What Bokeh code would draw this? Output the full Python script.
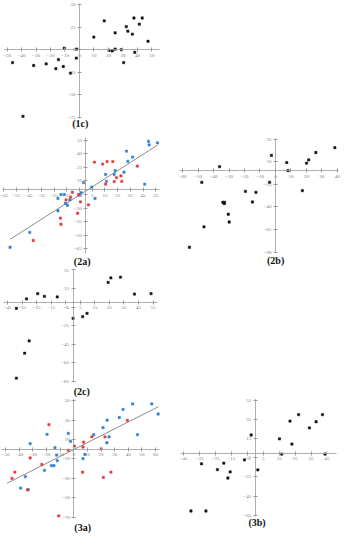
from bokeh.plotting import figure
from bokeh.models import LinearAxis, FixedTicker, Label, Range1d
from bokeh.layouts import column, row
from bokeh.embed import file_html
from bokeh.resources import INLINE

# ---------------- data ----------------
# panel 1c
c1_x = [-46.2, -39, -31.6, -23, -16.3, -14.5, -11.2, -10.5, -6.2, -2.2, -2, 9.9, 17.1, 20.4,
        22.6, 24.6, 24.6, 29, 30.5, 32.3, 33.4, 36.5, 37.6, 38.2, 41.3, 43.3, 47.3]
c1_y = [-14.3, -73.6, -17.5, -15.7, -21, -11, -18.6, 1.8, -26, -9.3, 0.7, 13.9, 31.8, -0.7,
        -1.4, 18.6, 0.7, 0, -14.3, 25.4, 20.4, 17.1, 35, -2.9, 28.2, 35, 9.3]
c1_xticks = [-50, -40, -30, -20, -10, 0, 10, 20, 30, 40, 50]
c1_yticks = [-75, -50, -25, 0, 25, 50]

# panel 2a
a2_blue_x = [49.3, 56.3, 49.8, 32, 36.8, 33, 15.5, 22.3, 23, 30, 16.2, 46.3, -1.8, 4.7, 7.2,
             -3.8, -5.3, -19.6, -17, -22, -16.1, -14.6, -12.6, -22, -44.2, -59.7]
a2_blue_y = [54, 52.3, 50, 43, 36.5, 31.8, 17.2, 17.2, 21.5, 19.7, 9.6, 6.4, 8.2, 3.2, -9.3,
             -2.9, -5.8, -5, -5, -9.3, -14.7, -16.9, -10.8, -23, -47, -63.5]
a2_red_x = [6.7, 13.2, 16.7, 21.2, 40.5, 27.6, 24.1, 28.3, 22.3, 15.5, -10.6, -5.6, -4.3, 2,
            -6.5, -15.6, -12, -20.1, -19.6, -41.4]
a2_red_y = [30.8, 28.7, 31.5, 31.5, 26.5, 15.7, 13.6, 9.6, 9.3, 6.4, -2.5, -5, -13.2, -16.5,
            -25.8, -11, -7.9, -31.2, -38, -56]
a2_trend = [0.9, -1.0]          # slope, intercept
a2_trend_x = [-59.7, 56.3]
a2_xticks = [-65, -55, -45, -35, -25, -15, -5, 5, 15, 25, 35, 45, 55]
a2_yticks = [-65, -50, -35, -20, -5, 10, 25, 40, 55]

# panel 2b
b2_x = [38.4, 26.1, 21.5, 20.1, 7.3, 8.1, -2.6, -36.1, -47.6, -3.8, 17.4, -19.4, -12.6, -34,
        -32.9, -33.1, -14.9, -30.5, -29.9, -46.2, -55.6]
b2_y = [25.5, 20.2, 12, 8.4, 9.1, 0.2, 17, 4.5, -12.7, -12.7, -22, -22.7, -23.75, -34.8,
        -34.8, -36.25, -34.5, -48, -56.6, -62, -84.5]
b2_xticks = [-60, -50, -40, -30, -20, -10, 0, 10, 20, 30, 40]
b2_yticks = [-90, -65, -40, -15, 10, 35]

# panel 2c
c2_x = [-39, -32, -24.3, -19.7, -10.9, 0, 6.6, 9.6, 24.1, 26, 32.6, 42.2, 53.6, -30.2, -33.3, -39]
c2_y = [-6.3, 3.8, 9.4, 6.6, 5.9, -17, -15.3, -11.8, 21.5, 26.4, 27.1, 9, 9.4, -41.3, -54.5, -81.3]
c2_xticks = [-45, -35, -25, -15, -5, 5, 15, 25, 35, 45, 55]
c2_yticks = [-85, -65, -45, -25, -5, 15, 35]

# panel 3a
a3_blue_x = [43.2, 57.2, 36.2, 61.9, 33.4, 24.5, 21.5, 14.7, 25.9, 24.3, 46.7, -4, -2.3, -19.6,
             -32, -13.8, -12.6, -12.1, -16.4, -14.5, -21.5, -35.5, -39, -33.4, 8.2, 6.8]
a3_blue_y = [46.7, 46.7, 41, 36.3, 32.7, 30, 22.3, 15, 12.7, 6.7, 15, 16.3, 8, 15.3, 5.7, 1.7,
             -6, -11.7, -17, -17, -21.7, -28.3, -40, -41.7, -5.3, -9.7]
a3_red_x = [-18.2, 39.3, 13.3, 22.9, 7.2, 6.8, 0.5, -4, 20.1, -32, -23.4, -43.2, -45.3, -33.9,
            6.5, 21.7, 27.3, -11]
a3_red_y = [25.3, 29.7, 12.7, 12.7, 7.3, 2.3, 3.3, -1, 0.3, -9, -15.7, -23.7, -30, -42,
            -23.7, -29, -23.7, -68.7]
a3_trend = [0.71, -0.3]
a3_trend_x = [-49, 62]
a3_xticks = [-50, -40, -30, -20, -10, 0, 10, 20, 30, 40, 50, 60]
a3_yticks = [-70, -50, -30, -10, 10, 30, 50]

# panel 3b
b3_x = [27.2, 42.2, 21.8, 38.2, 34, 15.2, 23, 16.6, 43.8, -2.6, -6.8, 1.6, -33.8, -19.8, -23.8,
        -15.8, -17.2, -40.4, -31]
b3_y = [40.3, 40.3, 33.6, 32.9, 26.4, 14.9, 9.5, -1, -1, 19, -7.1, -17.6, -11.2, -10.5, -17.3,
        -19.7, -26.1, -60.7, -60.7]
b3_xticks = [-45, -35, -25, -15, -5, 5, 15, 25, 35, 45]
b3_yticks = [-65, -45, -25, -5, 15, 35, 55]

# ---------------- styling / geometry ----------------
SX, SY = 0.955, 0.97
AXIS_COLOR = "#9a9a9a"
BLUE = "#2f7fd0"
RED = "#e23a3a"
BLACK = "#111111"


def panel(rect, origin, scale, xb, yb, xticks, yticks, label, label_pos):
    X0, Y0, X1, Y1 = rect
    ox, oy = origin
    kx, ky = scale
    W = round((X1 - X0) * SX)
    H = round((Y1 - Y0) * SY)
    xs = (X0 - ox) / kx
    xe = xs + (W / SX) / kx
    yt = (oy - Y0) / ky
    yb_ = yt - (H / SY) / ky
    p = figure(width=W, height=H, x_range=Range1d(xs, xe), y_range=Range1d(yb_, yt),
               x_axis_type=None, y_axis_type=None, toolbar_location=None,
               output_backend="svg", min_border=0, outline_line_color=None,
               border_fill_color="white", background_fill_color="white")
    for side, bnds, ticks in (("below", xb, xticks), ("left", yb, yticks)):
        ax = LinearAxis(fixed_location=0, bounds=bnds, ticker=FixedTicker(ticks=ticks))
        ax.axis_line_color = AXIS_COLOR
        ax.axis_line_width = 0.8
        ax.major_tick_line_color = AXIS_COLOR
        ax.major_tick_in = 2
        ax.major_tick_out = 2
        ax.minor_tick_line_color = None
        ax.major_label_text_font = "Liberation Serif"
        ax.major_label_text_font_size = "5px"
        ax.major_label_text_color = "#7a7a7a"
        ax.major_label_standoff = 2
        p.add_layout(ax, side)
    lx, ly = label_pos
    p.add_layout(Label(x=(lx - ox) / kx, y=(oy - ly) / ky, text=label,
                       text_font="Liberation Serif", text_font_style="bold",
                       text_font_size="10px", text_align="center",
                       text_baseline="middle", text_color="#111111"))
    return p


def dots(p, x, y, color):
    p.scatter(x, y, marker="square", size=2.3, fill_color=color, line_color=color,
              line_width=0.5)


def trend(p, coef, xr):
    m, b = coef
    p.line(xr, [m * v + b for v in xr], line_color="#8c8c8c", line_width=1)


p1c = panel((0, 0, 180, 135), (82.7, 50.7), (1.517, 0.933), (-52, 55), (-76, 51),
            c1_xticks, c1_yticks, "(1c)", (83.5, 126.5))
dots(p1c, c1_x, c1_y, BLACK)

p2a = panel((0, 135, 180, 276), (89.4, 195.3), (1.33, 0.93), (-66, 58), (-70, 58),
            a2_xticks, a2_yticks, "(2a)", (85.5, 269))
trend(p2a, a2_trend, a2_trend_x)
dots(p2a, a2_blue_x, a2_blue_y, BLUE)
dots(p2a, a2_red_x, a2_red_y, RED)

p2b = panel((180, 135, 359, 276), (287.8, 175.5), (1.62, 0.933), (-62, 41), (-90, 36),
            b2_xticks, b2_yticks, "(2b)", (288, 268))
dots(p2b, b2_x, b2_y, BLACK)

p2c = panel((0, 276, 180, 410), (76, 311), (1.523, 0.96), (-47.5, 58), (-86, 36),
            c2_xticks, c2_yticks, "(2c)", (85, 403))
dots(p2c, c2_x, c2_y, BLACK)

p3a = panel((0, 410, 180, 550), (76.7, 462.3), (1.427, 1.0), (-53, 63), (-71, 52),
            a3_xticks, a3_yticks, "(3a)", (86, 543))
trend(p3a, a3_trend, a3_trend_x)
dots(p3a, a3_blue_x, a3_blue_y, BLUE)
dots(p3a, a3_red_x, a3_red_y, RED)

p3b = panel((180, 410, 359, 550), (266.7, 466.3), (1.667, 0.983), (-47, 51), (-66, 57),
            b3_xticks, b3_yticks, "(3b)", (268.5, 537.5))
dots(p3b, b3_x, b3_y, BLACK)

layout = column(p1c, row(p2a, p2b), p2c, row(p3a, p3b))

open("out.html", "w").write(file_html(layout, INLINE))
